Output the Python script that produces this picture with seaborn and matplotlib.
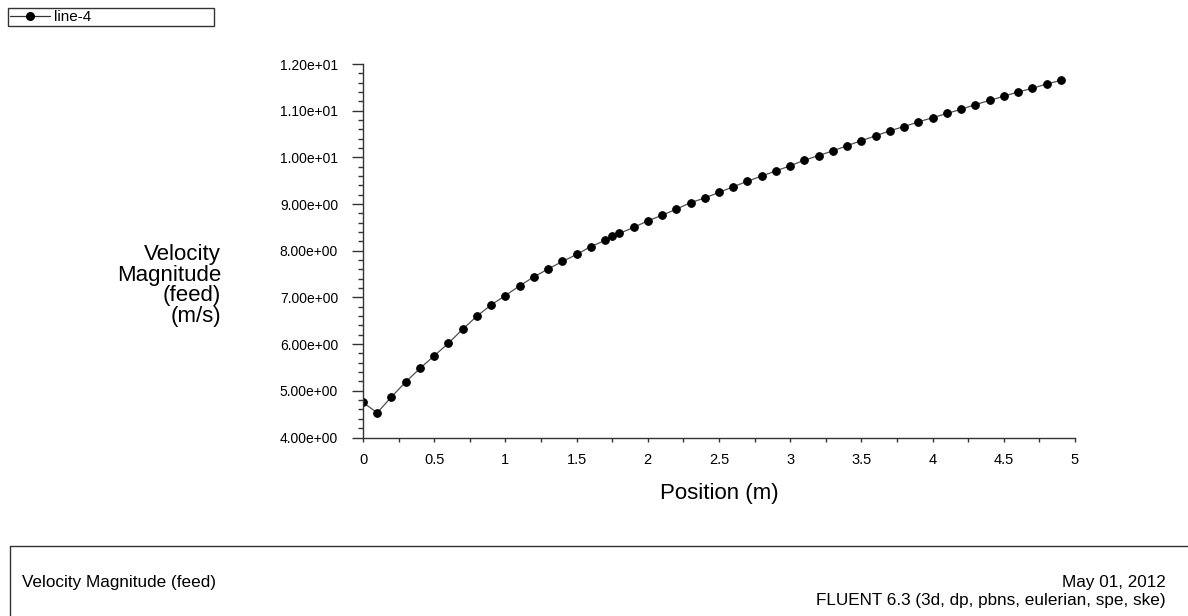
import numpy as np
import pandas as pd
import matplotlib
matplotlib.use("Agg")
import matplotlib.pyplot as plt
from matplotlib.ticker import MultipleLocator, FormatStrFormatter
from matplotlib.lines import Line2D
from matplotlib.patches import Rectangle
import seaborn as sns

# Position along line-4 (m)
position = [0.0, 0.1, 0.2, 0.3, 0.4, 0.5, 0.6, 0.7, 0.8, 0.9,
            1.0, 1.1, 1.2, 1.3, 1.4, 1.5, 1.6, 1.7, 1.75, 1.8,
            1.9, 2.0, 2.1, 2.2, 2.3, 2.4, 2.5, 2.6, 2.7, 2.8,
            2.9, 3.0, 3.1, 3.2, 3.3, 3.4, 3.5, 3.6, 3.7, 3.8,
            3.9, 4.0, 4.1, 4.2, 4.3, 4.4, 4.5, 4.6, 4.7, 4.8, 4.9]

# Velocity magnitude of the feed phase (m/s)
velocity = [4.75, 4.53, 4.87, 5.19, 5.48, 5.75, 6.02, 6.32, 6.60, 6.84,
            7.04, 7.25, 7.44, 7.61, 7.77, 7.92, 8.09, 8.22, 8.31, 8.37,
            8.50, 8.64, 8.76, 8.89, 9.03, 9.13, 9.25, 9.37, 9.49, 9.60,
            9.71, 9.82, 9.94, 10.04, 10.14, 10.25, 10.36, 10.46, 10.57, 10.66,
            10.76, 10.85, 10.94, 11.03, 11.13, 11.22, 11.31, 11.40, 11.48, 11.57, 11.65]

x_ticks = [0, 0.5, 1, 1.5, 2, 2.5, 3, 3.5, 4, 4.5, 5]
x_tick_labels = ["0", "0.5", "1", "1.5", "2", "2.5", "3", "3.5", "4", "4.5", "5"]
y_ticks = [4, 5, 6, 7, 8, 9, 10, 11, 12]

df = pd.DataFrame({"position": position, "velocity": velocity})

sns.set_style("white")
plt.rcParams["font.family"] = ["Liberation Sans", "DejaVu Sans"]
plt.rcParams["text.color"] = "black"
plt.rcParams["axes.labelcolor"] = "black"
plt.rcParams["xtick.labelcolor"] = "black"
plt.rcParams["ytick.labelcolor"] = "black"

W, H = 1188, 616
fig = plt.figure(figsize=(W / 100, H / 100), dpi=100)
ax = fig.add_axes([363 / W, (H - 437.5) / H, 712 / W, 373.5 / H])

sns.lineplot(data=df, x="position", y="velocity", ax=ax, color="#505050",
             linewidth=0.9, marker="o", markersize=5.5,
             markerfacecolor="black", markeredgecolor="black", label="line-4",
             legend=False)

ax.set_xlim(0, 5)
ax.set_ylim(4, 12)
ax.set_xticks(x_ticks)
ax.set_xticklabels(x_tick_labels)
ax.set_yticks(y_ticks)
ax.yaxis.set_major_formatter(FormatStrFormatter("%.2e"))
ax.xaxis.set_minor_locator(MultipleLocator(0.25))
ax.yaxis.set_minor_locator(MultipleLocator(0.2))

for side in ["top", "right"]:
    ax.spines[side].set_visible(False)
for side in ["left", "bottom"]:
    ax.spines[side].set_color("#333333")
    ax.spines[side].set_linewidth(1.0)

ax.tick_params(axis="y", which="major", direction="out", length=8, width=1,
               color="#333333", labelsize=10, pad=10, left=True)
ax.tick_params(axis="y", which="minor", direction="out", length=3.5, width=1,
               color="#333333", left=True)
ax.tick_params(axis="x", which="both", direction="out", length=3, width=1,
               color="#333333", labelsize=10.5, pad=8, bottom=True)

ax.set_xlabel("Position (m)", fontsize=16, labelpad=12)
ax.set_ylabel("")
fig.text(221 / W, 1 - 285.5 / H, "Velocity\nMagnitude\n(feed)\n(m/s)",
         ha="right", va="center", fontsize=16, linespacing=0.97)

# legend box in the top-left corner
fig.patches.append(Rectangle((8 / W, 1 - 26 / H), 206 / W, 18 / H,
                             transform=fig.transFigure, fill=False,
                             edgecolor="#333333", linewidth=1))
handle = Line2D([], [], color="#333333", linewidth=0.9, marker="o",
                markersize=5.5, markerfacecolor="black", markeredgecolor="black")
fig.legend([handle], ["line-4"], loc="center left",
           bbox_to_anchor=(10 / W, 1 - 17 / H), frameon=False, fontsize=11,
           handlelength=2.6, handletextpad=0.3, borderpad=0, borderaxespad=0)

# footer frame
fig.add_artist(Line2D([10 / W, 1], [1 - 546 / H, 1 - 546 / H],
                      transform=fig.transFigure, color="#333333", linewidth=1))
fig.add_artist(Line2D([10 / W, 10 / W], [0, 1 - 546 / H],
                      transform=fig.transFigure, color="#333333", linewidth=1))
fig.text(22 / W, 1 - 582 / H, "Velocity Magnitude (feed)",
         ha="left", va="center", fontsize=12.3)
fig.text(1166 / W, 1 - 582 / H, "May 01, 2012",
         ha="right", va="center", fontsize=12.3)
fig.text(1166 / W, 1 - 600 / H, "FLUENT 6.3 (3d, dp, pbns, eulerian, spe, ske)",
         ha="right", va="center", fontsize=12.3)

fig.savefig("out.png", dpi=100)
